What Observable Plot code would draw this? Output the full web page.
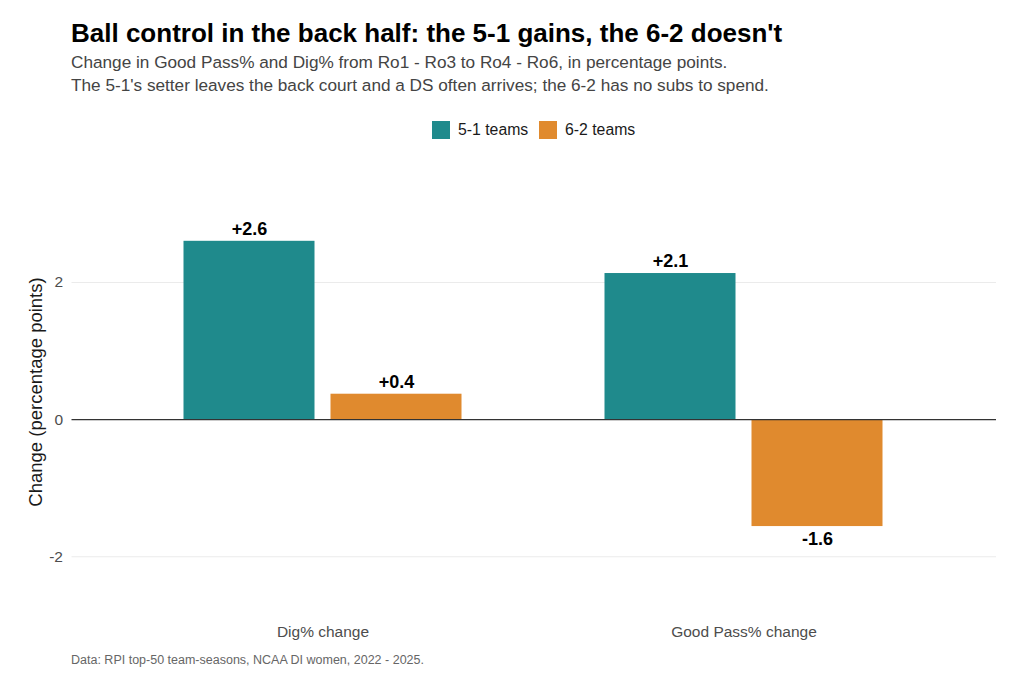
<!DOCTYPE html>
<html><head><meta charset="utf-8">
<script src="https://cdn.jsdelivr.net/npm/d3@7"></script>
<script src="https://cdn.jsdelivr.net/npm/@observablehq/plot@0.6"></script>
<style>
body{margin:0;background:#fff;font-family:"Liberation Sans",Arial,sans-serif;}
#wrap{position:relative;width:1024px;height:683px;overflow:hidden;background:#fff;}
.abs{position:absolute;white-space:nowrap;line-height:1;}
#chart{position:absolute;left:0;top:150px;}
.sw{display:inline-block;width:18px;height:18px;position:absolute;}
</style></head><body><div id="wrap">
<div class="abs" style="left:71px;top:20px;font-size:26px;font-weight:bold;color:#000;">Ball control in the back half: the 5-1 gains, the 6-2 doesn't</div>
<div class="abs" style="left:71px;top:53.5px;font-size:17.2px;color:#444;">Change in Good Pass% and Dig% from Ro1 - Ro3 to Ro4 - Ro6, in percentage points.</div>
<div class="abs" style="left:71px;top:76.5px;font-size:17.2px;color:#444;">The 5-1's setter leaves the back court and a DS often arrives; the 6-2 has no subs to spend.</div>
<div id="legend"></div>
<div id="chart"></div>
<div class="abs" style="left:36px;top:392px;transform:translate(-50%,-50%) rotate(-90deg);font-size:18.5px;color:#1a1a1a;">Change (percentage points)</div>
<div class="abs" style="left:71px;top:654px;font-size:12.5px;color:#666;">Data: RPI top-50 team-seasons, NCAA DI women, 2022 - 2025.</div>
</div>
<script>
const metrics = ["Dig% change", "Good Pass% change"];
const groups = ["5-1 teams", "6-2 teams"];
const digChange = [2.60, 0.37];
const goodPassChange = [2.13, -1.56];
const groupColors = ["#1f8a8c", "#e08a2e"];
const yTicks = [-2, 0, 2];

const rows = [];
groups.forEach((g, i) => {
  rows.push({metric: metrics[0], group: g, value: digChange[i]});
  rows.push({metric: metrics[1], group: g, value: goodPassChange[i]});
});
const fmt = d => (d.value >= 0 ? "+" : "") + d.value.toFixed(1);

// grid line data, one set per facet
const gridRows = [];
metrics.forEach(m => yTicks.forEach(t => gridRows.push({metric: m, y: t})));

// legend
const legend = document.getElementById("legend");
const lx = [432, 539];
groups.forEach((g, i) => {
  const s = document.createElement("div");
  s.className = "sw";
  s.style.left = lx[i] + "px"; s.style.top = "121px"; s.style.background = groupColors[i];
  legend.appendChild(s);
  const t = document.createElement("div");
  t.className = "abs";
  t.style.left = (lx[i] + 26) + "px"; t.style.top = "122.3px"; t.style.fontSize = "15.8px"; t.style.color = "#1a1a1a";
  t.textContent = g;
  legend.appendChild(t);
});

const gridOpts = (m, w, c) => ({
  fx: "metric", y: "y", stroke: c, strokeWidth: w,
  insetLeft: m === metrics[0] ? -40.5 : 0,
  insetRight: m === metrics[1] ? -42 : 0
});

const marks = [];
metrics.forEach(m => {
  marks.push(Plot.ruleY(gridRows.filter(d => d.metric === m && d.y !== 0), gridOpts(m, 1.1, "#ebebeb")));
});
marks.push(Plot.barY(rows, {fx: "metric", x: "group", y: "value", fill: "group"}));
metrics.forEach(m => {
  marks.push(Plot.ruleY(gridRows.filter(d => d.metric === m && d.y === 0), gridOpts(m, 1.2, "#333")));
});
marks.push(
  Plot.text(rows.filter(d => d.value >= 0), {fx: "metric", x: "group", y: "value", text: fmt, lineAnchor: "bottom", dy: -6.5, fontWeight: "bold", fontSize: 18, fill: "#000"}),
  Plot.text(rows.filter(d => d.value < 0), {fx: "metric", x: "group", y: "value", text: fmt, lineAnchor: "top", dy: 6, fontWeight: "bold", fontSize: 18, fill: "#000"}),
  Plot.axisY({ticks: yTicks, tickFormat: d => String(d), tickSize: 0, tickPadding: 49.5, fontSize: 15.5, color: "#4d4d4d", label: null}),
  Plot.axisFx({anchor: "bottom", tickSize: 0, tickPadding: 5, fontSize: 15.5, color: "#4d4d4d", label: null})
);

const chart = Plot.plot({
  width: 1024, height: 500,
  marginTop: 14, marginBottom: 30, marginLeft: 111.5, marginRight: 70.5,
  style: {fontFamily: '"Liberation Sans", Arial, sans-serif', background: "transparent"},
  fx: {domain: metrics, padding: 0, label: null},
  x: {domain: groups, paddingInner: 0.109, paddingOuter: 0.486, axis: null},
  y: {domain: [-2.93, 3.72], axis: null},
  color: {domain: groups, range: groupColors},
  marks
});
document.getElementById("chart").appendChild(chart);
</script>
</body></html>
